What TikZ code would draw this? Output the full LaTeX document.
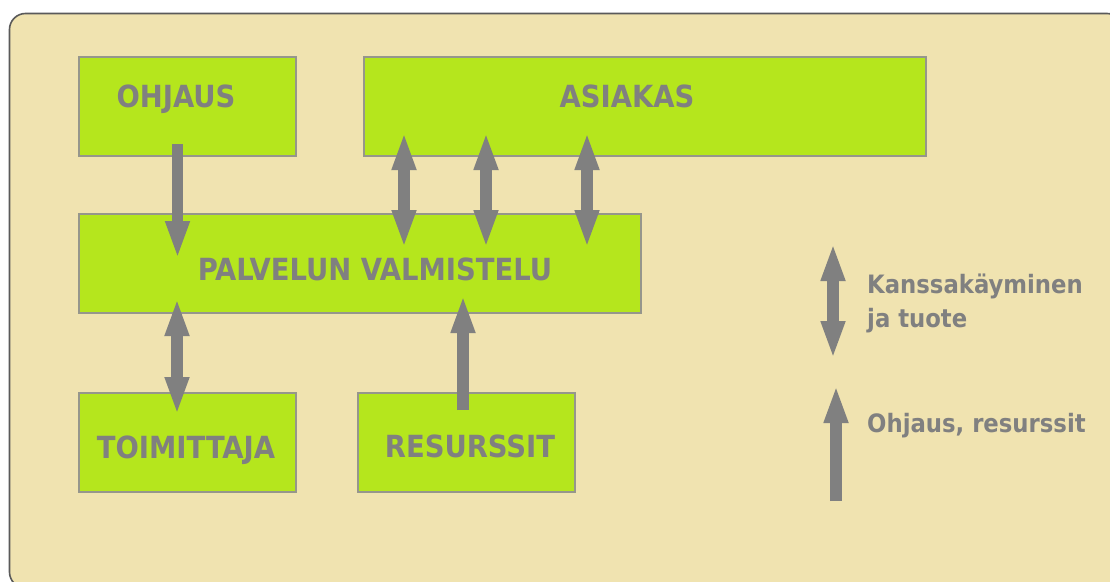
\documentclass[tikz,border=0pt]{standalone}
\usepackage{fontspec}
\setmainfont{DejaVu Sans Condensed}
\usetikzlibrary{arrows.meta}
\definecolor{bgc}{RGB}{240,227,176}
\definecolor{boxgreen}{RGB}{181,230,29}
\definecolor{boxline}{RGB}{150,150,140}
\definecolor{arrgray}{RGB}{128,128,128}
\definecolor{txtgray}{RGB}{128,128,128}
\definecolor{framec}{RGB}{90,90,90}
\tikzset{
  greenbox/.style={draw=boxline, line width=1.2pt, fill=boxgreen, minimum width=217pt, minimum height=99pt, inner sep=0pt},
  widebox/.style={greenbox, minimum width=562pt},
  boxtext/.style={inner sep=0pt, anchor=base, text=txtgray, font=\bfseries\fontsize{30.5}{36}\selectfont},
  legtext/.style={inner sep=0pt, anchor=base west, text=txtgray, align=left, font=\bfseries\fontsize{25.3}{34}\selectfont},
  onearrow/.style={draw=arrgray, line width=11.5pt, -{Triangle[length=38pt,width=22pt]}},
  twoarrow/.style={draw=arrgray, line width=11.5pt, {Triangle[length=38pt,width=22pt]}-{Triangle[length=38pt,width=22pt]}}
}
\begin{document}
\begin{tikzpicture}[x=1pt,y=-1pt]
\useasboundingbox (0,0) rectangle (1110,581);
\clip (0,0) rectangle (1110,581);
\fill[white] (0,0) rectangle (1110,581);
\draw[framec, line width=1.6pt, fill=bgc, rounded corners=16pt] (9.5,13.5) rectangle (1123,588);

% boxes
\node[greenbox] (ohjaus) at (187.5,106.5) {};
\node[widebox] (asiakas) at (645,106.5) {};
\node[widebox] (palvelu) at (360,263.5) {};
\node[greenbox] (toimittaja) at (187.5,442.5) {};
\node[greenbox] (resurssit) at (466.5,442.5) {};

% box texts
\node[boxtext] (ohjausT) at (176,107) {OHJAUS};
\node[boxtext] (asiakasT) at (627,107) {ASIAKAS};
\node[boxtext] (palveluT) at (375,280) {PALVELUN VALMISTELU};
\node[boxtext] (toimittajaT) at (186,458) {TOIMITTAJA};
\node[boxtext] (resurssitT) at (470,457) {RESURSSIT};

% arrow end points
\coordinate (o1) at (177.5,144);
\coordinate (o2) at (177.5,259);
\coordinate (a1t) at (404,132); \coordinate (a1b) at (404,248);
\coordinate (a2t) at (486,132); \coordinate (a2b) at (486,248);
\coordinate (a3t) at (587,132); \coordinate (a3b) at (587,248);
\coordinate (t1) at (177,298); \coordinate (t2) at (177,415);
\coordinate (r1) at (463,410); \coordinate (r2) at (463,295);
\coordinate (l1t) at (833,243); \coordinate (l1b) at (833,359);
\coordinate (l2b) at (836,501); \coordinate (l2t) at (836,385);

\draw[onearrow] (o1) -- (o2);
\draw[twoarrow] (a1t) -- (a1b);
\draw[twoarrow] (a2t) -- (a2b);
\draw[twoarrow] (a3t) -- (a3b);
\draw[twoarrow] (t1) -- (t2);
\draw[onearrow] (r1) -- (r2);
\draw[twoarrow] (l1t) -- (l1b);
\draw[onearrow] (l2b) -- (l2t);

% legend
\node[legtext] (leg1) at (867,327) {Kanssakäyminen\\ja tuote};
\node[legtext] (leg2) at (867,432) {Ohjaus, resurssit};
\end{tikzpicture}
\end{document}
